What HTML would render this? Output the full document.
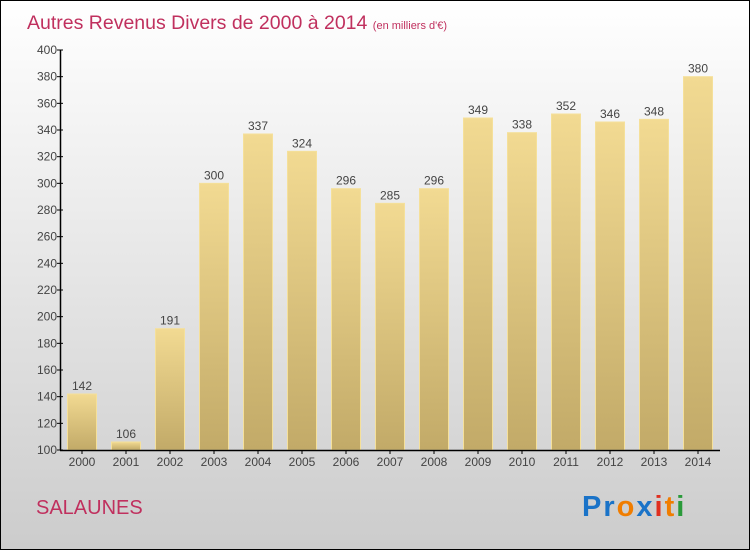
<!DOCTYPE html>
<html><head><meta charset="utf-8"><style>
body{margin:0;width:750px;height:550px;overflow:hidden}
svg{display:block;font-family:"Liberation Sans",sans-serif}
</style></head><body>
<svg width="750" height="550">
<defs>
<linearGradient id="bg" x1="0" y1="0" x2="0" y2="1"><stop offset="0" stop-color="#ffffff"/><stop offset="1" stop-color="#cccccc"/></linearGradient>
<linearGradient id="bar" x1="0" y1="0" x2="0" y2="1"><stop offset="0" stop-color="#f2da92"/><stop offset="1" stop-color="#c2aa68"/></linearGradient>
</defs>
<rect x="0.5" y="0.5" width="749" height="549" fill="url(#bg)" stroke="#000"/>
<text x="27" y="29" font-size="19.5" fill="#c0305e">Autres Revenus Divers de 2000 à 2014 <tspan font-size="11">(en milliers d'€)</tspan></text>
<text x="36" y="514" font-size="20" fill="#c0305e">SALAUNES</text>
<g font-size="29" font-weight="bold">
<text x="582" y="516" letter-spacing="2"><tspan fill="#1a73c8">Pr</tspan><tspan fill="#f07d00">o</tspan><tspan fill="#1a73c8">x</tspan><tspan fill="#e03020">i</tspan><tspan fill="#f07d00">t</tspan><tspan fill="#2a9a3a">i</tspan></text>
</g>
<g id="plot"></g>
</svg>
<script>
const years=["2000","2001","2002","2003","2004","2005","2006","2007","2008","2009","2010","2011","2012","2013","2014"];
const values=[142,106,191,300,337,324,296,285,296,349,338,352,346,348,380];
const ticks=[100,120,140,160,180,200,220,240,260,280,300,320,340,360,380,400];
const NS="http://www.w3.org/2000/svg";
const g=document.getElementById('plot');
const y=v=>450-(v-100)*400/300;
const x=i=>82+i*44;
function mk(t,a){const e=document.createElementNS(NS,t);for(const k in a)e.setAttribute(k,a[k]);g.appendChild(e);return e;}
values.forEach((v,i)=>{
 const r=mk('rect',{x:x(i)-14.5,y:y(v),width:29,height:450-y(v),fill:'url(#bar)',stroke:'#f5e09a','stroke-width':1});
 
 
 const t=mk('text',{x:x(i),y:y(v)-4,'text-anchor':'middle','font-size':12,fill:'#444'});
 t.textContent=v;
 
 
 const l=mk('text',{x:x(i),y:466,'text-anchor':'middle','font-size':12,fill:'#444'});
 l.textContent=years[i];
 
 
 const tk=mk('line',{x1:x(i),x2:x(i),y1:450,y2:454,stroke:'#000'});
 
 
});
ticks.forEach(v=>{
 const l=mk('line',{x1:57,x2:63,y1:y(v),y2:y(v),stroke:'#000'});
 
 
 const t=mk('text',{x:57,y:y(v)+4,'text-anchor':'end','font-size':12,fill:'#444'});
 t.textContent=v;
 
 
});
const ya=mk('line',{x1:60.5,x2:60.5,y1:50,y2:450.5,stroke:'#000','stroke-width':1.5});


const xa=mk('line',{x1:60,x2:720,y1:450.5,y2:450.5,stroke:'#000','stroke-width':1.5});


</script>
</body></html>
